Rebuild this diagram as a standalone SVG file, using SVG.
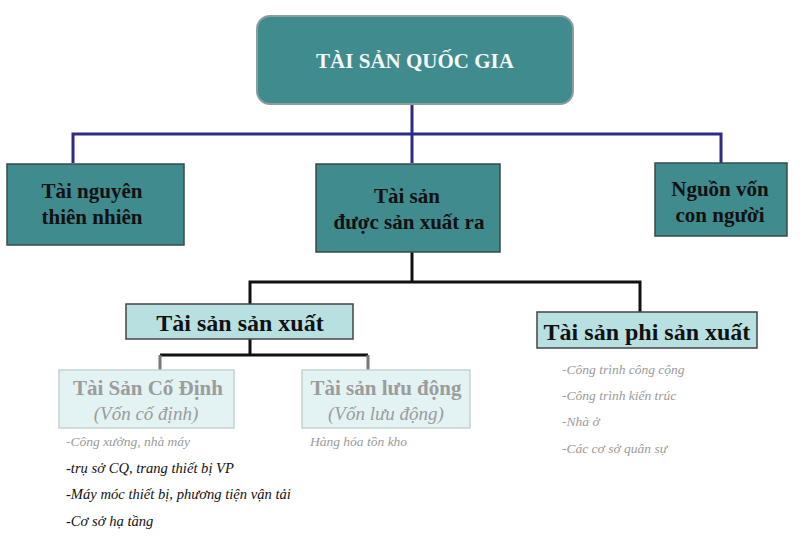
<svg xmlns="http://www.w3.org/2000/svg" width="800" height="543" viewBox="0 0 800 543">
<style>
.teal{fill:#3f8b8e;stroke:#3a4a4c;stroke-width:1.5}
.light{fill:#b9e0e1;stroke:#444;stroke-width:1.5}
.pale{fill:#e3f2f2;stroke:#c4d2d2;stroke-width:1.5}
.b{font-family:"Liberation Serif",serif;font-weight:bold;text-anchor:middle}
.g{font-family:"Liberation Serif",serif;font-style:italic;font-size:13.5px;fill:#9a9a9a}
.k{font-family:"Liberation Serif",serif;font-style:italic;font-size:14.6px;fill:#111}
</style>
<rect width="800" height="543" fill="#fff"/>
<g id="connectors" fill="none">
<g stroke="#2e2a8a" stroke-width="3">
<path d="M412 104V134M73 163V134H721V163M412 134V163"/>
</g>
<g stroke="#111" stroke-width="3">
<path d="M412 252V282M250 304V282H640V313"/>
<path d="M250 339V355M160 355H368"/>
</g>
<g stroke="#777" stroke-width="3">
<path d="M160 355V370M368 355V370"/>
</g>
</g>
<g id="n-root">
<rect x="257" y="16" width="316" height="88" rx="13" fill="#3f8b8e" stroke="#8a9ea0" stroke-width="2"/>
<text x="415" y="68" class="b" font-size="21" fill="#f4f8f8">TÀI SẢN QUỐC GIA</text>
</g>
<g id="n-tainguyen">
<rect x="7" y="164" width="177" height="81" class="teal"/>
<text x="92" y="198" class="b" font-size="21" fill="#111">Tài nguyên</text>
<text x="92" y="224" class="b" font-size="21" fill="#111">thiên nhiên</text>
</g>
<g id="n-duocsanxuat">
<rect x="316" y="164" width="184" height="88" class="teal"/>
<text x="407" y="203" class="b" font-size="21" fill="#111">Tài sản</text>
<text x="409" y="229" class="b" font-size="21" fill="#111">được sản xuất ra</text>
</g>
<g id="n-nguonvon">
<rect x="655" y="163" width="132" height="73" class="teal"/>
<text x="720" y="196" class="b" font-size="21" fill="#111">Nguồn vốn</text>
<text x="720" y="222" class="b" font-size="21" fill="#111">con người</text>
</g>
<g id="n-sanxuat">
<rect x="126" y="304" width="227" height="35" class="light"/>
<text x="240" y="331" class="b" font-size="24" fill="#111">Tài sản sản xuất</text>
</g>
<g id="n-phisanxuat">
<rect x="537" y="312" width="220" height="36" class="light"/>
<text x="647" y="340" class="b" font-size="24" fill="#111">Tài sản phi sản xuất</text>
</g>
<g id="n-codinh">
<rect x="59" y="370" width="175" height="58" class="pale"/>
<text x="148" y="395" class="b" font-size="21" fill="#9c9c9c">Tài Sản Cố Định</text>
<text x="146" y="420" font-family="Liberation Serif,serif" font-style="italic" font-size="19" text-anchor="middle" fill="#9c9c9c">(Vốn cố định)</text>
</g>
<g id="n-luudong">
<rect x="302" y="370" width="168" height="58" class="pale"/>
<text x="386" y="395" class="b" font-size="21" fill="#9c9c9c">Tài sản lưu động</text>
<text x="386" y="420" font-family="Liberation Serif,serif" font-style="italic" font-size="19" text-anchor="middle" fill="#9c9c9c">(Vốn lưu động)</text>
</g>
<g id="lists">
<text x="66" y="446" class="g">-Công xưởng, nhà máy</text>
<text x="66" y="473" class="k">-trụ sở CQ, trang thiết bị VP</text>
<text x="66" y="499" class="k">-Máy móc thiết bị, phương tiện vận tải</text>
<text x="66" y="526" class="k">-Cơ sở hạ tầng</text>
<text x="310" y="446" class="g">Hàng hóa tồn kho</text>
<text x="562" y="374" class="g">-Công trình công cộng</text>
<text x="562" y="400" class="g">-Công trình kiến trúc</text>
<text x="562" y="426" class="g">-Nhà ở</text>
<text x="562" y="453" class="g">-Các cơ sở quân sự</text>
</g>
</svg>
